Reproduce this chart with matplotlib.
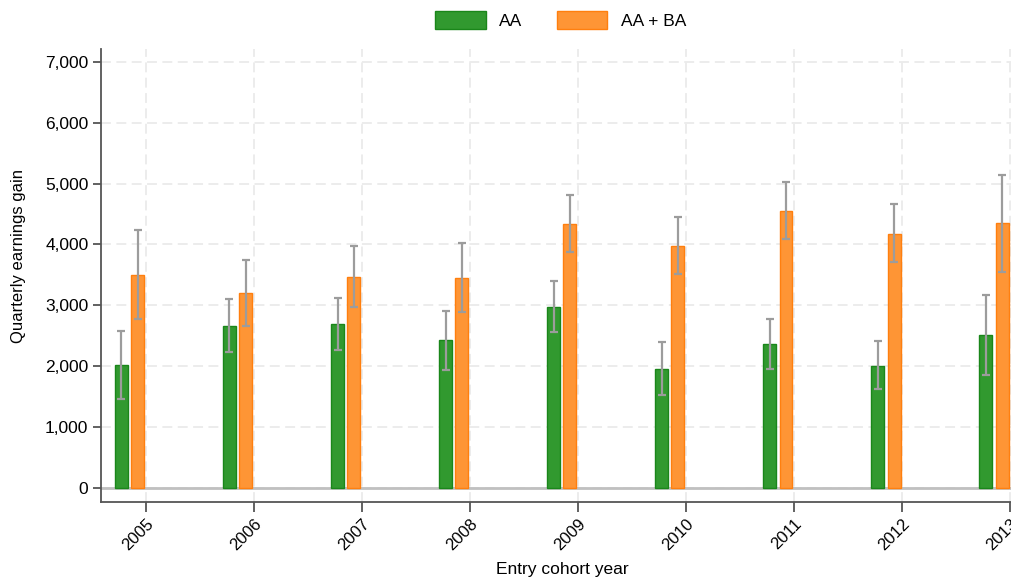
import numpy as np
import matplotlib.pyplot as plt
from matplotlib.ticker import FuncFormatter

plt.rcParams['font.family'] = ['Liberation Sans', 'DejaVu Sans']

# cohort estimates: point value with lower / upper confidence bounds
years = [2005, 2006, 2007, 2008, 2009, 2010, 2011, 2012, 2013]
aa = [2016, 2664, 2692, 2422, 2972, 1961, 2362, 2010, 2504]
aa_lo = [1462, 2236, 2268, 1939, 2560, 1532, 1950, 1621, 1857]
aa_hi = [2580, 3109, 3125, 2911, 3394, 2395, 2774, 2412, 3163]
aaba = [3499, 3196, 3471, 3443, 4333, 3977, 4547, 4175, 4349]
aaba_lo = [2768, 2653, 2972, 2883, 3871, 3521, 4081, 3707, 3554]
aaba_hi = [4234, 3746, 3970, 4020, 4811, 4448, 5031, 4662, 5147]

x = np.array(years, dtype=float)
aa = np.array(aa); aaba = np.array(aaba)
aa_err = [aa - np.array(aa_lo), np.array(aa_hi) - aa]
aaba_err = [aaba - np.array(aaba_lo), np.array(aaba_hi) - aaba]

width = 0.12
green = '#31992f'
green_edge = '#1a861a'
orange = '#fe9535'
orange_edge = '#ff7f0e'
errc = '#9c9c9c'

fig = plt.figure(figsize=(10.12, 5.81), dpi=100)
ax = fig.add_axes([0.0998, 0.136, 0.8995, 0.7797])
ax.set_axisbelow(True)

ax.grid(True, color='#ebebeb', linestyle=(0, (5.5, 3)), linewidth=1.3)
ax.axhline(0, color='#c0c0c0', linewidth=2.0, zorder=1)

ax.bar(x - 0.225, aa, width, color=green, edgecolor=green_edge, linewidth=1.0,
       label='AA', zorder=2)
ax.bar(x - 0.075, aaba, width, color=orange, edgecolor=orange_edge, linewidth=1.0,
       label='AA + BA', zorder=2)
ax.errorbar(x - 0.225, aa, yerr=aa_err, fmt='none', ecolor=errc, elinewidth=1.6,
            capsize=3, capthick=1.6, zorder=3)
ax.errorbar(x - 0.075, aaba, yerr=aaba_err, fmt='none', ecolor=errc, elinewidth=1.6,
            capsize=3, capthick=1.6, zorder=3)

ax.set_xlim(2004.586, 2013.01)
ax.set_ylim(-231, 7210)
ax.set_xticks(years)
ax.set_xticklabels([str(y) for y in years], rotation=45, ha='right',
                   rotation_mode='anchor', fontsize=12)
ax.set_yticks(range(0, 7001, 1000))
ax.yaxis.set_major_formatter(FuncFormatter(lambda v, p: f'{int(v):,}'))
ax.tick_params(axis='y', labelsize=12.5, length=6, width=1.3, color='#555555', pad=3)
ax.tick_params(axis='x', length=7, width=1.3, color='#555555', pad=3)

for side in ['top', 'right']:
    ax.spines[side].set_visible(False)
for side in ['left', 'bottom']:
    ax.spines[side].set_color('#555555')
    ax.spines[side].set_linewidth(1.3)

ax.set_ylabel('Quarterly earnings gain', fontsize=12, va='center')
ax.yaxis.set_label_coords(-0.091, 0.543)
ax.set_xlabel('Entry cohort year', fontsize=12.5, va='center')
ax.xaxis.set_label_coords(0.507, -0.150)

fig.legend(loc='center', bbox_to_anchor=(0.554, 0.966), ncol=2, frameon=False,
           fontsize=12.5, handlelength=2.9, handleheight=1.2, columnspacing=1.95,
           handletextpad=0.8, borderpad=0)

fig.savefig('out.png', dpi=100)
